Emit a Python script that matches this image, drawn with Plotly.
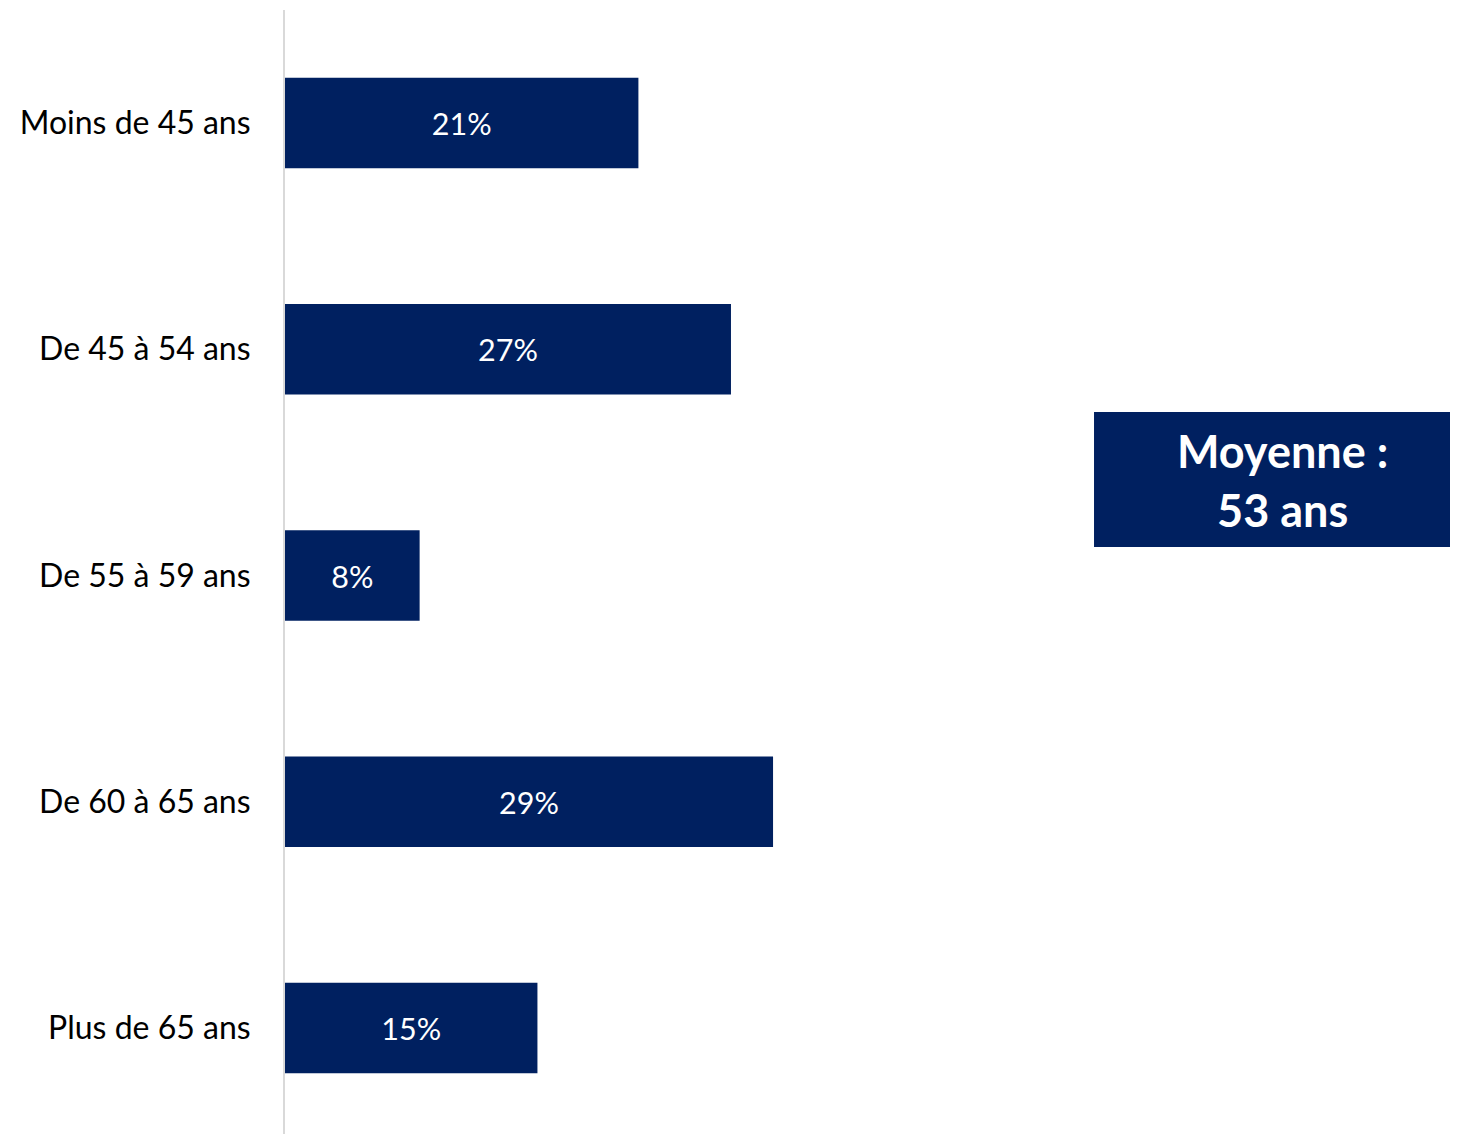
import plotly.graph_objects as go

categories = ["Moins de 45 ans", "De 45 à 54 ans", "De 55 à 59 ans", "De 60 à 65 ans", "Plus de 65 ans"]
values = [21, 26.5, 8, 29, 15]
value_labels = ["21%", "27%", "8%", "29%", "15%"]
box_text = "<b>Moyenne :<br>53 ans</b>"

NAVY = "#002060"
FONT = "Lato, 'Open Sans', sans-serif"

fig = go.Figure(go.Bar(
    x=values, y=categories, orientation="h",
    marker=dict(color=NAVY, line=dict(width=0)),
    text=value_labels, textposition="inside", insidetextanchor="middle",
    textfont=dict(color="white", size=30.5, family=FONT),
    width=0.4, hoverinfo="skip",
))

fig.update_layout(
    width=1450, height=1126,
    margin=dict(l=277, r=0, t=2, b=0),
    plot_bgcolor="white", paper_bgcolor="white",
    showlegend=False,
    font=dict(family=FONT, color="black"),
    xaxis=dict(range=[0, 69.7], visible=False, fixedrange=True),
    yaxis=dict(
        categoryorder="array", categoryarray=categories,
        range=[4.4685, -0.4994],
        showline=True, linecolor="#D9D9D9", linewidth=2,
        showgrid=False, zeroline=False, ticks="",
        ticklabelstandoff=26,
        tickfont=dict(size=32, family=FONT, color="black"),
    ),
    shapes=[dict(type="rect", xref="paper", yref="paper",
                 x0=0.6897, x1=1.02, y0=(1134 - 547) / 1124, y1=(1134 - 412) / 1124,
                 fillcolor=NAVY, line=dict(width=0), layer="above")],
    annotations=[dict(xref="paper", yref="paper", x=0.8508, y=(1134 - 480) / 1124,
                      text=box_text, showarrow=False,
                      font=dict(size=45, color="white", family=FONT),
                      align="center", xanchor="center", yanchor="middle")],
)

fig.write_html("out.html")
